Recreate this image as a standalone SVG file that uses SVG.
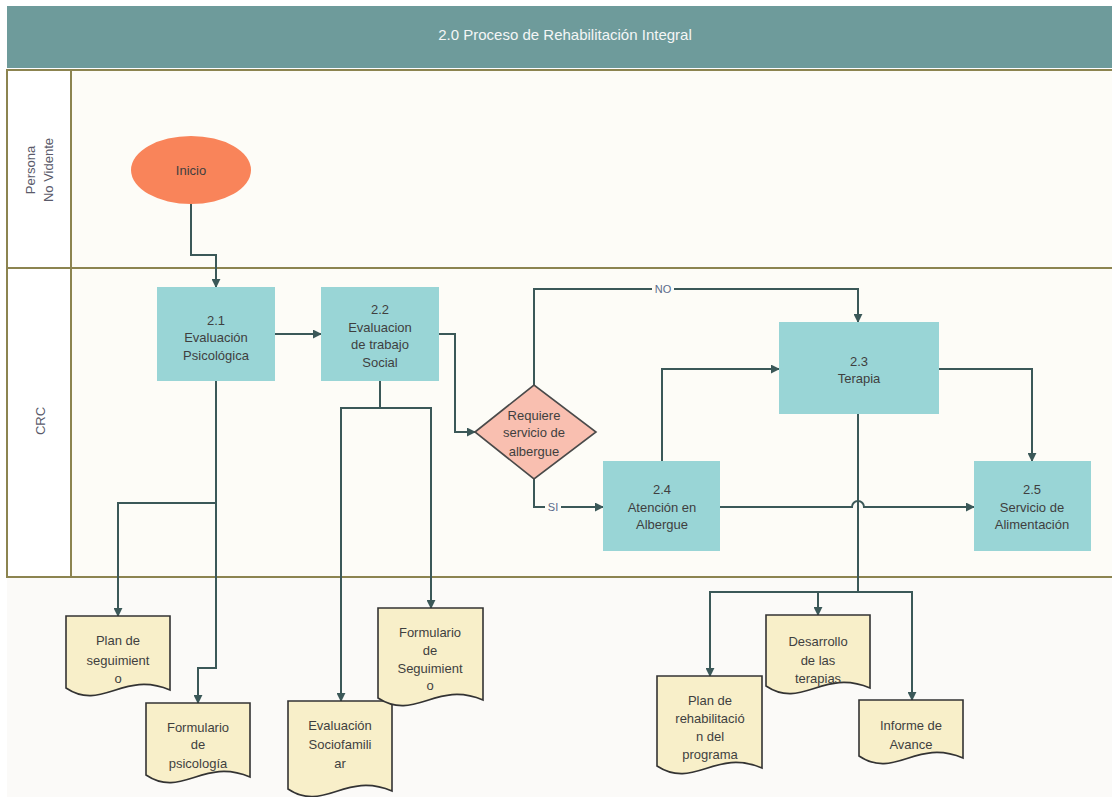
<svg xmlns="http://www.w3.org/2000/svg" width="1112" height="797" viewBox="0 0 1112 797">
  <defs>
    <marker id="arrow" viewBox="0 0 10 10" refX="9" refY="5" markerWidth="4.5" markerHeight="4.5" orient="auto" markerUnits="strokeWidth">
      <path d="M0,0 L10,5 L0,10 z" fill="#3b5858"/>
    </marker>
    <style>
      .lane { fill: #fdfcf7; stroke: #8c8450; stroke-width: 2; }
      .lanehead { fill: #ffffff; stroke: #8c8450; stroke-width: 2; }
      .proc { fill: #99d5d6; }
      .doc { fill: #f8efc9; stroke: #333333; stroke-width: 1.6; }
      .conn { fill: none; stroke: #3b5858; stroke-width: 2; }
      .arr { marker-end: url(#arrow); }
      text { font-family: "Liberation Sans", Arial, sans-serif; font-size: 13px; fill: #3f3f3f; text-anchor: middle; }
      .title { font-size: 15px; fill: #f4f6f6; }
      .lbl { font-size: 13px; fill: #5a5a6a; }
      .edge { font-size: 11px; fill: #5a6a8a; }
    </style>
  </defs>

  <rect width="1112" height="797" fill="#ffffff"/>
  <rect x="7" y="577" width="1105" height="220" fill="#fbfaf8"/>

  <!-- title bar -->
  <g id="header">
    <rect x="7" y="6" width="1105" height="62" fill="#6e9b9b"/>
    <text class="title" x="565" y="40">2.0 Proceso de Rehabilitación Integral</text>
  </g>

  <!-- swimlanes -->
  <g id="lane-persona">
    <rect class="lane" x="7" y="70" width="1110" height="198"/>
    <rect class="lanehead" x="7" y="70" width="64" height="198"/>
    <text class="lbl" transform="translate(35,170) rotate(-90)">Persona</text>
    <text class="lbl" transform="translate(53,170) rotate(-90)">No Vidente</text>
  </g>
  <g id="lane-crc">
    <rect class="lane" x="7" y="268" width="1110" height="309"/>
    <rect class="lanehead" x="7" y="268" width="64" height="309"/>
    <text class="lbl" transform="translate(45,421) rotate(-90)">CRC</text>
  </g>

  <!-- connectors -->
  <g id="connectors">
    <path class="conn arr" d="M191,204 V255 H216 V287"/>
    <path class="conn arr" d="M275,334 H321"/>
    <path class="conn arr" d="M439,334 H455 V432 H475"/>
    <path class="conn arr" d="M534,385 V289 H858 V322"/>
    <path class="conn arr" d="M534,479 V507 H603"/>
    <path class="conn arr" d="M662,461 V369 H779"/>
    <path class="conn arr" d="M939,369 H1032 V461"/>
    <path class="conn arr" d="M720,507 H852 A6,6 0 0 1 864,507 H974"/>
    <!-- 2.1 outputs -->
    <path class="conn arr" d="M216,381 V503 H118 V616"/>
    <path class="conn arr" d="M216,503 V668 H198 V703"/>
    <!-- 2.2 outputs -->
    <path class="conn arr" d="M380,381 V408 H341 V701"/>
    <path class="conn arr" d="M380,408 H431 V608"/>
    <!-- 2.3 outputs -->
    <path class="conn" d="M858,414 V592"/>
    <path class="conn arr" d="M858,592 H710 V676"/>
    <path class="conn arr" d="M818,592 V615"/>
    <path class="conn arr" d="M858,592 H912 V700"/>
    <!-- edge labels -->
    <rect x="652" y="283" width="22" height="12" fill="#fdfcf7"/>
    <text class="edge" x="663" y="293">NO</text>
    <rect x="545" y="501" width="16" height="12" fill="#fdfcf7"/>
    <text class="edge" x="553" y="511">SI</text>
  </g>

  <!-- nodes -->
  <g id="inicio">
    <ellipse cx="191" cy="170" rx="60" ry="34" fill="#f9845a"/>
    <text x="191" y="175">Inicio</text>
  </g>

  <g id="n2-1">
    <rect class="proc" x="157" y="287" width="118" height="94"/>
    <text x="216" y="325">2.1</text>
    <text x="216" y="342">Evaluación</text>
    <text x="216" y="360">Psicológica</text>
  </g>

  <g id="n2-2">
    <rect class="proc" x="321" y="287" width="118" height="94"/>
    <text x="380" y="314">2.2</text>
    <text x="380" y="332">Evaluacion</text>
    <text x="380" y="349">de trabajo</text>
    <text x="380" y="367">Social</text>
  </g>

  <g id="decision">
    <path d="M475,432 L534,385 L596,432 L534,479 Z" fill="#f9bfb0" stroke="#4a4a4a" stroke-width="1.6"/>
    <text x="534" y="420">Requiere</text>
    <text x="534" y="437">servicio de</text>
    <text x="534" y="456">albergue</text>
  </g>

  <g id="n2-3">
    <rect class="proc" x="779" y="322" width="160" height="92"/>
    <text x="859" y="366">2.3</text>
    <text x="859" y="383">Terapia</text>
  </g>

  <g id="n2-4">
    <rect class="proc" x="603" y="461" width="117" height="90"/>
    <text x="662" y="494">2.4</text>
    <text x="662" y="512">Atención en</text>
    <text x="662" y="529">Albergue</text>
  </g>

  <g id="n2-5">
    <rect class="proc" x="974" y="461" width="117" height="90"/>
    <text x="1032" y="494">2.5</text>
    <text x="1032" y="512">Servicio de</text>
    <text x="1032" y="529">Alimentación</text>
  </g>

  <!-- documents -->
  <g id="doc-plan-seguimiento" transform="translate(66,616)">
    <path class="doc" d="M0,0 H104 V74 C57,54 36,96 0,72 Z"/>
    <text x="52" y="29">Plan de</text>
    <text x="52" y="49">seguimient</text>
    <text x="52" y="67">o</text>
  </g>

  <g id="doc-form-psicologia" transform="translate(146,703)">
    <path class="doc" d="M0,0 H104 V74 C57,54 36,96 0,72 Z"/>
    <text x="52" y="29">Formulario</text>
    <text x="52" y="46">de</text>
    <text x="52" y="65">psicología</text>
  </g>

  <g id="doc-eval-sociofamiliar" transform="translate(288,701)">
    <path class="doc" d="M0,0 H104 V90 C57,70 36,112 0,88 Z"/>
    <text x="52" y="29">Evaluación</text>
    <text x="52" y="48">Sociofamili</text>
    <text x="52" y="67">ar</text>
  </g>

  <g id="doc-form-seguimiento" transform="translate(378,608)">
    <path class="doc" d="M0,0 H105 V92 C58,72 37,114 0,90 Z"/>
    <text x="52" y="29">Formulario</text>
    <text x="52" y="47">de</text>
    <text x="52" y="65">Seguimient</text>
    <text x="52" y="82">o</text>
  </g>

  <g id="doc-plan-rehabilitacion" transform="translate(657,676)">
    <path class="doc" d="M0,0 H105 V92 C58,72 37,114 0,90 Z"/>
    <text x="53" y="29">Plan de</text>
    <text x="53" y="47">rehabilitació</text>
    <text x="53" y="65">n del</text>
    <text x="53" y="83">programa</text>
  </g>

  <g id="doc-desarrollo" transform="translate(766,615)">
    <path class="doc" d="M0,0 H104 V73 C57,53 36,95 0,71 Z"/>
    <text x="52" y="31">Desarrollo</text>
    <text x="52" y="50">de las</text>
    <text x="52" y="68">terapias</text>
  </g>

  <g id="doc-informe" transform="translate(859,700)">
    <path class="doc" d="M0,0 H104 V58 C57,38 36,80 0,56 Z"/>
    <text x="52" y="30">Informe de</text>
    <text x="52" y="49">Avance</text>
  </g>
</svg>
